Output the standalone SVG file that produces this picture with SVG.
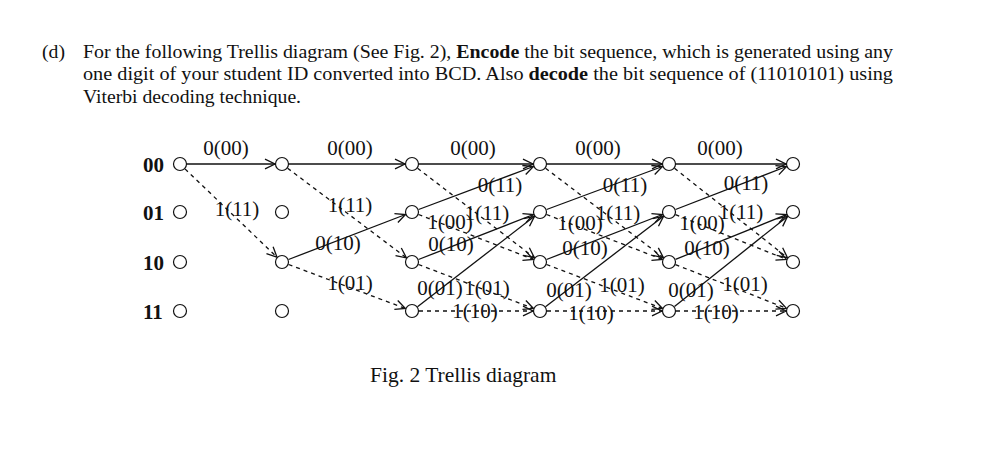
<svg xmlns="http://www.w3.org/2000/svg" width="996" height="462" viewBox="0 0 996 462">
<style>
.t{font-family:"Liberation Serif","Times New Roman",serif;fill:#111}
.p{font-size:19.7px}
.c{font-size:21.5px}
.r{font-size:21px;font-weight:bold}
.l{font-size:21px;text-anchor:middle}
.n{fill:#fff;stroke:#111;stroke-width:1.2}
.e{fill:none;stroke:#111;stroke-width:1.3;marker-end:url(#a)}
.d{stroke-dasharray:4 4}
</style>
<defs>
<marker id="a" markerWidth="13" markerHeight="12" refX="11" refY="6" orient="auto" markerUnits="userSpaceOnUse">
<path d="M1,1.2 L11,6 L1,10.8" fill="none" stroke="#111" stroke-width="1.3"/>
</marker>
</defs>
<rect width="996" height="462" fill="#fff"/>
<g id="question">
<text class="t p" x="42" y="57.5">(d)</text>
<text class="t p" x="83" y="57.5" textLength="810" lengthAdjust="spacingAndGlyphs">For the following Trellis diagram (See Fig. 2), <tspan font-weight="bold">Encode</tspan> the bit sequence, which is generated using any</text>
<text class="t p" x="83" y="80" textLength="810" lengthAdjust="spacingAndGlyphs">one digit of your student ID converted into BCD. Also <tspan font-weight="bold">decode</tspan> the bit sequence of (11010101) using</text>
<text class="t p" x="83" y="102.5">Viterbi decoding technique.</text>
</g>
<g id="connectors">
<!-- stage 0 -->
<line class="e" x1="187" y1="164" x2="275" y2="164"/>
<line class="e d" x1="185" y1="168.9" x2="277" y2="257.2"/>
<!-- stage 1 -->
<line class="e" x1="289" y1="164" x2="405" y2="164"/>
<line class="e d" x1="287.6" y1="168.2" x2="406.4" y2="257.8"/>
<line class="e" x1="288.5" y1="259.5" x2="405.5" y2="214.5"/>
<line class="e d" x1="288.6" y1="264.5" x2="405.4" y2="308.5"/>
<!-- stage 2 -->
<line class="e" x1="419" y1="164" x2="533" y2="164"/>
<line class="e d" x1="417.6" y1="168.3" x2="534.4" y2="257.7"/>
<line class="e" x1="418.6" y1="209.5" x2="533.4" y2="166.5"/>
<line class="e d" x1="418.5" y1="214.5" x2="533.5" y2="259.5"/>
<line class="e" x1="418.5" y1="259.5" x2="533.5" y2="214.5"/>
<line class="e d" x1="418.5" y1="264.5" x2="533.5" y2="308.5"/>
<line class="e" x1="417.5" y1="306.7" x2="534.5" y2="216.3"/>
<line class="e d" x1="419" y1="311" x2="533" y2="311"/>
<!-- stage 3 -->
<line class="e" x1="547" y1="164" x2="662" y2="164"/>
<line class="e d" x1="545.6" y1="168.3" x2="663.4" y2="257.7"/>
<line class="e" x1="546.6" y1="209.5" x2="662.4" y2="166.5"/>
<line class="e d" x1="546.5" y1="214.5" x2="662.5" y2="259.5"/>
<line class="e" x1="546.5" y1="259.5" x2="662.5" y2="214.5"/>
<line class="e d" x1="546.5" y1="264.5" x2="662.5" y2="308.5"/>
<line class="e" x1="545.5" y1="306.7" x2="663.5" y2="216.3"/>
<line class="e d" x1="547" y1="311" x2="662" y2="311"/>
<!-- stage 4 -->
<line class="e" x1="676" y1="164" x2="786" y2="164"/>
<line class="e d" x1="674.5" y1="168.3" x2="787.5" y2="257.7"/>
<line class="e" x1="675.5" y1="209.5" x2="786.5" y2="166.5"/>
<line class="e d" x1="675.5" y1="214.6" x2="786.5" y2="259.4"/>
<line class="e" x1="675.5" y1="259.4" x2="786.5" y2="214.6"/>
<line class="e d" x1="675.5" y1="264.6" x2="786.5" y2="308.4"/>
<line class="e" x1="674.5" y1="306.6" x2="787.5" y2="216.4"/>
<line class="e d" x1="676" y1="311" x2="786" y2="311"/>
</g>
<g id="edge-labels">
<text class="t l" x="226" y="155">0(00)</text>
<text class="t l" x="237" y="216">1(11)</text>
<text class="t l" x="350" y="155">0(00)</text>
<text class="t l" x="350" y="212">1(11)</text>
<text class="t l" x="338" y="250">0(10)</text>
<text class="t l" x="350" y="290">1(01)</text>
<text class="t l" x="473" y="155">0(00)</text>
<text class="t l" x="500" y="192">0(11)</text>
<text class="t l" x="487" y="220">1(11)</text>
<text class="t l" x="450" y="229">1(00)</text>
<text class="t l" x="451" y="251">0(10)</text>
<text class="t l" x="440" y="295">0(01)</text>
<text class="t l" x="487" y="295">1(01)</text>
<text class="t l" x="475" y="318">1(10)</text>
<text class="t l" x="598" y="155">0(00)</text>
<text class="t l" x="625" y="192">0(11)</text>
<text class="t l" x="618" y="220">1(11)</text>
<text class="t l" x="580" y="230">1(00)</text>
<text class="t l" x="585" y="255">0(10)</text>
<text class="t l" x="569" y="297">0(01)</text>
<text class="t l" x="622" y="292">1(01)</text>
<text class="t l" x="591" y="320">1(10)</text>
<text class="t l" x="720" y="155">0(00)</text>
<text class="t l" x="746" y="190">0(11)</text>
<text class="t l" x="741" y="219">1(11)</text>
<text class="t l" x="702" y="230">1(00)</text>
<text class="t l" x="707" y="255">0(10)</text>
<text class="t l" x="691" y="297">0(01)</text>
<text class="t l" x="745" y="291">1(01)</text>
<text class="t l" x="716" y="319">1(10)</text>
</g>
<g id="states">
<text class="t r" x="143" y="171.5">00</text>
<text class="t r" x="143" y="219.5">01</text>
<text class="t r" x="143" y="269.5">10</text>
<text class="t r" x="143" y="318.5">11</text>
</g>
<g id="n0-00"><circle class="n" cx="180" cy="164" r="6.5"/></g>
<g id="n0-01"><circle class="n" cx="180" cy="212" r="6.5"/></g>
<g id="n0-10"><circle class="n" cx="180" cy="262" r="6.5"/></g>
<g id="n0-11"><circle class="n" cx="180" cy="311" r="6.5"/></g>
<g id="n1-00"><circle class="n" cx="282" cy="164" r="6.5"/></g>
<g id="n1-01"><circle class="n" cx="282" cy="212" r="6.5"/></g>
<g id="n1-10"><circle class="n" cx="282" cy="262" r="6.5"/></g>
<g id="n1-11"><circle class="n" cx="282" cy="311" r="6.5"/></g>
<g id="n2-00"><circle class="n" cx="412" cy="164" r="6.5"/></g>
<g id="n2-01"><circle class="n" cx="412" cy="212" r="6.5"/></g>
<g id="n2-10"><circle class="n" cx="412" cy="262" r="6.5"/></g>
<g id="n2-11"><circle class="n" cx="412" cy="311" r="6.5"/></g>
<g id="n3-00"><circle class="n" cx="540" cy="164" r="6.5"/></g>
<g id="n3-01"><circle class="n" cx="540" cy="212" r="6.5"/></g>
<g id="n3-10"><circle class="n" cx="540" cy="262" r="6.5"/></g>
<g id="n3-11"><circle class="n" cx="540" cy="311" r="6.5"/></g>
<g id="n4-00"><circle class="n" cx="669" cy="164" r="6.5"/></g>
<g id="n4-01"><circle class="n" cx="669" cy="212" r="6.5"/></g>
<g id="n4-10"><circle class="n" cx="669" cy="262" r="6.5"/></g>
<g id="n4-11"><circle class="n" cx="669" cy="311" r="6.5"/></g>
<g id="n5-00"><circle class="n" cx="793" cy="164" r="6.5"/></g>
<g id="n5-01"><circle class="n" cx="793" cy="212" r="6.5"/></g>
<g id="n5-10"><circle class="n" cx="793" cy="262" r="6.5"/></g>
<g id="n5-11"><circle class="n" cx="793" cy="311" r="6.5"/></g>
<g id="caption">
<text class="t c" x="370" y="382">Fig. 2 Trellis diagram</text>
</g>
</svg>
